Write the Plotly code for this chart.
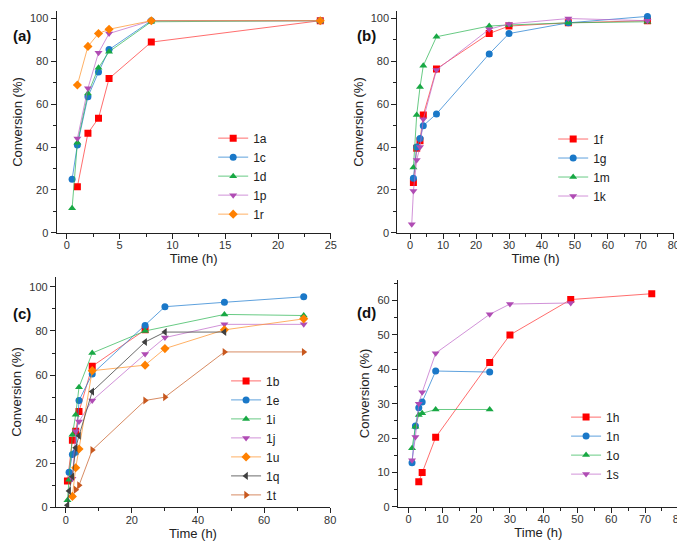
import plotly.graph_objects as go

# ---------------- data ----------------
# panel (a)
T_1A = [1, 2, 3, 4, 8, 24]
Y_1A = [21.5, 46.5, 53.5, 72, 89, 99]
T_1C = [0.5, 1, 2, 3, 4, 8, 24]
Y_1C = [25, 41, 63.5, 75, 85.5, 99, 99]
T_1D = [0.5, 1, 2, 3, 4, 8, 24]
Y_1D = [11.5, 42, 65, 77, 84.5, 98.5, 99]
T_1P = [1, 2, 3, 4, 8, 24]
Y_1P = [44, 67.5, 84, 93, 99, 99]
T_1R = [1, 2, 3, 4, 8, 24]
Y_1R = [69, 87, 93, 95, 99, 99]

# panel (b)
T_1F = [1, 2, 3, 4, 8, 24, 30, 48, 72]
Y_1F = [23.5, 39.5, 43, 55, 76.5, 93, 96.5, 98, 99]
T_1G = [1, 2, 3, 4, 8, 24, 30, 48, 72]
Y_1G = [25.5, 40, 44, 50, 55.5, 83.5, 93, 98, 101]
T_1M = [1, 2, 3, 4, 8, 24, 30, 48, 72]
Y_1M = [30.5, 55, 68, 78, 91.5, 96.5, 97, 98, 98.5]
T_1K = [0.5, 1, 2, 3, 4, 8, 24, 30, 48, 72]
Y_1K = [4, 19.5, 34, 40, 53, 76, 95, 97.5, 100, 99]

# panel (c)
T_1B = [0.5, 2, 3, 4, 8, 24]
Y_1B = [12, 30.5, 34.5, 43.5, 64, 80.5]
T_1E = [1, 2, 3, 4, 8, 24, 30, 48, 72]
Y_1E = [16, 24, 25, 48.5, 60.5, 82.5, 91, 93, 95.5]
T_1I = [0.5, 1, 2, 3, 4, 8, 24, 48, 72]
Y_1I = [3.3, 12.5, 33, 42, 54.5, 70, 80, 87.5, 87]
T_1J = [2, 3, 4, 8, 24, 30, 48, 72]
Y_1J = [13, 34.5, 39, 48.5, 69.5, 77, 83, 83]
T_1U = [2, 3, 4, 8, 24, 30, 48, 72]
Y_1U = [5, 18, 26.5, 62, 64.5, 72, 80.5, 85.5]
T_1Q = [0.5, 1, 2, 3, 4, 8, 24, 30, 48]
Y_1Q = [1, 7.5, 14, 27, 32.5, 52.5, 75, 79.5, 79.5]
T_1T = [3, 4, 8, 24, 30, 48, 72]
Y_1T = [8, 10, 26, 48.5, 50, 70.5, 70.5]

# panel (d)
T_1H = [3, 4, 8, 24, 30, 48, 72]
Y_1H = [7.3, 10, 20.2, 42, 50, 60.3, 62]
T_1N = [1, 2, 3, 4, 8, 24]
Y_1N = [12.8, 23.5, 28.8, 30.5, 39.5, 39.2]
T_1O = [1, 2, 3, 4, 8, 24]
Y_1O = [17, 23.3, 26.7, 27.2, 28.3, 28.3]
T_1S = [1, 2, 3, 4, 8, 24, 30, 48]
Y_1S = [13.5, 20.3, 30, 33.3, 44.7, 56, 59, 59.3]

PANEL_LABELS = ["(a)", "(b)", "(c)", "(d)"]

# ---------------- styles ----------------
RED = ("#FF0000", "rgba(255,60,60,0.75)")
BLUE = ("#1A78C8", "rgba(40,130,210,0.75)")
GREEN = ("#18A844", "rgba(40,180,80,0.7)")
PURPLE = ("#B04CB4", "rgba(190,100,200,0.7)")
ORANGE = ("#FF8000", "rgba(255,150,50,0.75)")
GRAY = ("#404040", "rgba(70,70,70,0.8)")
BROWN = ("#C8581E", "rgba(205,110,60,0.8)")

FONT = "Liberation Sans, Arial, sans-serif"

fig = go.Figure()


def add(name, t, y, style, symbol, ax, legend):
    mc, lc = style
    fig.add_trace(go.Scatter(
        x=t, y=y, name=name, mode="lines+markers",
        xaxis=ax[0], yaxis=ax[1], legend=legend,
        line=dict(color=lc, width=1),
        marker=dict(color=mc, symbol=symbol, size=7, line=dict(width=0)),
    ))


A = ("x", "y")
B = ("x2", "y2")
C = ("x3", "y3")
D = ("x4", "y4")

add("1a", T_1A, Y_1A, RED, "square", A, "legend")
add("1c", T_1C, Y_1C, BLUE, "circle", A, "legend")
add("1d", T_1D, Y_1D, GREEN, "triangle-up", A, "legend")
add("1p", T_1P, Y_1P, PURPLE, "triangle-down", A, "legend")
add("1r", T_1R, Y_1R, ORANGE, "diamond", A, "legend")

add("1f", T_1F, Y_1F, RED, "square", B, "legend2")
add("1g", T_1G, Y_1G, BLUE, "circle", B, "legend2")
add("1m", T_1M, Y_1M, GREEN, "triangle-up", B, "legend2")
add("1k", T_1K, Y_1K, PURPLE, "triangle-down", B, "legend2")

add("1b", T_1B, Y_1B, RED, "square", C, "legend3")
add("1e", T_1E, Y_1E, BLUE, "circle", C, "legend3")
add("1i", T_1I, Y_1I, GREEN, "triangle-up", C, "legend3")
add("1j", T_1J, Y_1J, PURPLE, "triangle-down", C, "legend3")
add("1u", T_1U, Y_1U, ORANGE, "diamond", C, "legend3")
add("1q", T_1Q, Y_1Q, GRAY, "triangle-left", C, "legend3")
add("1t", T_1T, Y_1T, BROWN, "triangle-right", C, "legend3")

add("1h", T_1H, Y_1H, RED, "square", D, "legend4")
add("1n", T_1N, Y_1N, BLUE, "circle", D, "legend4")
add("1o", T_1O, Y_1O, GREEN, "triangle-up", D, "legend4")
add("1s", T_1S, Y_1S, PURPLE, "triangle-down", D, "legend4")

W, H = 685, 544


def px_x(p):
    return p / W


def px_y(p):
    return 1 - p / H


def xaxis(domain, rng, dtick, anchor):
    return dict(
        domain=domain, range=rng, dtick=dtick, tick0=0, anchor=anchor,
        showgrid=False, zeroline=False, showline=True, linecolor="#222",
        linewidth=1, ticks="outside", ticklen=5, tickwidth=1, tickcolor="#222",
        minor=dict(ticks="outside", ticklen=3, dtick=dtick / 2, tick0=0, tickcolor="#222"),
        tickfont=dict(size=11, color="#333", family=FONT),
        ticklabelstandoff=-3,
        title=dict(text="Time (h)", font=dict(size=13, color="#222", family=FONT), standoff=0),
    )


def yaxis(domain, rng, dtick, anchor):
    return dict(
        domain=domain, range=rng, dtick=dtick, tick0=0, anchor=anchor,
        showgrid=False, zeroline=False, showline=True, linecolor="#222",
        linewidth=1, ticks="outside", ticklen=5, tickwidth=1, tickcolor="#222",
        minor=dict(ticks="outside", ticklen=3, dtick=dtick / 2, tick0=0, tickcolor="#222"),
        tickfont=dict(size=11, color="#333", family=FONT),
        title=dict(text="Conversion (%)", font=dict(size=13, color="#222", family=FONT), standoff=4),
    )


def legend(xl, yc):
    return dict(
        x=px_x(xl), y=px_y(yc), xanchor="left", yanchor="middle",
        bgcolor="rgba(0,0,0,0)", borderwidth=0,
        font=dict(size=12, color="#222", family=FONT),
        tracegroupgap=0, itemsizing="trace",
    )


fig.update_layout(
    width=W, height=H,
    margin=dict(l=0, r=0, t=0, b=0),
    paper_bgcolor="white", plot_bgcolor="white",
    font=dict(family=FONT),
    xaxis=xaxis([px_x(49), px_x(325.7)], [-0.97, 25], 5, "y"),
    yaxis=yaxis([px_y(227.3), px_y(3.3)], [0, 103.4], 20, "x"),
    xaxis2=xaxis([px_x(392.7), px_x(671.7)], [-3.9, 80], 10, "y2"),
    yaxis2=yaxis([px_y(227.3), px_y(3.3)], [0, 103.4], 20, "x2"),
    xaxis3=xaxis([px_x(48.3), px_x(325)], [-3, 80], 20, "y3"),
    yaxis3=yaxis([px_y(505), px_y(271.7)], [0, 104.6], 20, "x3"),
    xaxis4=xaxis([px_x(393.3), px_x(676.7)], [-3.2, 80], 10, "y4"),
    yaxis4=yaxis([px_y(504.3), px_y(275)], [0, 66], 10, "x4"),
    legend=legend(207, 170),
    legend2=legend(550, 161.3),
    legend3=legend(220, 434.7),
    legend4=legend(563, 442.5),
    showlegend=True,
)

label_pos = [(3, 28), (350, 28), (3, 309), (350, 308)]
for lab, (lx, ly) in zip(PANEL_LABELS, label_pos):
    fig.add_annotation(
        text="<b>" + lab + "</b>", x=px_x(lx), y=px_y(ly), xref="paper", yref="paper",
        xanchor="left", yanchor="middle", showarrow=False,
        font=dict(size=15, color="#111", family=FONT),
    )

fig.write_html("out.html")
